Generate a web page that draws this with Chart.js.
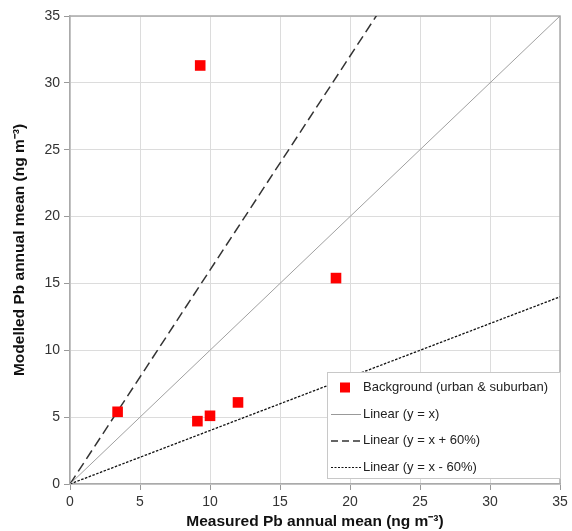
<!DOCTYPE html>
<html>
<head>
<meta charset="utf-8">
<script src="https://cdn.jsdelivr.net/npm/chart.js@4"></script>
<style>
  html, body { margin: 0; padding: 0; background: #fff; }
  #wrap { position: relative; width: 572px; height: 531px; }
</style>
</head>
<body>
<div id="wrap"><canvas id="chart" width="572" height="531"></canvas></div>
<script>
const measured = [3.4, 9.3, 9.1, 10.0, 12.0, 19.0];
const modelled = [5.4, 31.3, 4.7, 5.1, 6.1, 15.4];
const lineX = [0, 35];
const slopes = { equal: 1, plus60: 1.6, minus60: 0.4 };
const tickValues = [0, 5, 10, 15, 20, 25, 30, 35];

const font = "'Liberation Sans', Arial, sans-serif";

function linePoints(slope) {
  return lineX.map(x => ({ x, y: x * slope }));
}

const legendItems = [
  { label: "Background (urban & suburban)", kind: "square" },
  { label: "Linear (y = x)", kind: "line", color: "#999", width: 1, dash: [] },
  { label: "Linear (y = x + 60%)", kind: "line", color: "#333", width: 1.5, dash: [7, 4] },
  { label: "Linear (y = x - 60%)", kind: "line", color: "#111", width: 1.2, dash: [2, 1.5] }
];

// top and right edges of the plot box
const frame = {
  id: "frame",
  beforeDatasetsDraw(chart) {
    const { ctx, chartArea: a } = chart;
    ctx.save();
    ctx.strokeStyle = "#aaa";
    ctx.lineWidth = 1.5;
    ctx.beginPath();
    ctx.moveTo(a.left, a.top);
    ctx.lineTo(a.right, a.top);
    ctx.lineTo(a.right, a.bottom);
    ctx.stroke();
    ctx.restore();
  }
};

const boxLegend = {
  id: "boxLegend",
  afterDraw(chart) {
    const ctx = chart.ctx;
    const x0 = 327, y0 = 372, w = 233, h = 106;
    ctx.save();
    ctx.fillStyle = "#fff";
    ctx.fillRect(x0, y0, w, h);
    ctx.strokeStyle = "#c8c8c8";
    ctx.lineWidth = 1;
    ctx.strokeRect(x0 + 0.5, y0 + 0.5, w, h);
    ctx.font = "13px " + font;
    ctx.textBaseline = "middle";
    legendItems.forEach((it, i) => {
      const y = y0 + 15.5 + i * 26.5;
      if (it.kind === "square") {
        ctx.fillStyle = "#ff0000";
        ctx.fillRect(340, y - 5, 10, 10);
      } else {
        ctx.strokeStyle = it.color;
        ctx.lineWidth = it.width;
        ctx.setLineDash(it.dash);
        ctx.beginPath();
        ctx.moveTo(331, y + 0.5);
        ctx.lineTo(361, y + 0.5);
        ctx.stroke();
        ctx.setLineDash([]);
      }
      ctx.fillStyle = "#222";
      ctx.fillText(it.label, 363, y);
    });
    ctx.restore();
  }
};

new Chart(document.getElementById("chart"), {
  type: "scatter",
  data: {
    datasets: [
      {
        label: "Background (urban & suburban)",
        data: measured.map((x, i) => ({ x, y: modelled[i] })),
        pointStyle: "rect",
        pointRadius: 7.5,
        pointHoverRadius: 7.5,
        backgroundColor: "#ff0000",
        borderColor: "#ff0000",
        borderWidth: 0,
        order: 0
      },
      {
        label: "Linear (y = x)",
        data: linePoints(slopes.equal),
        showLine: true,
        pointRadius: 0,
        borderColor: "#a0a0a0",
        borderWidth: 1,
        order: 1
      },
      {
        label: "Linear (y = x + 60%)",
        data: linePoints(slopes.plus60),
        showLine: true,
        pointRadius: 0,
        borderColor: "#333",
        borderWidth: 1.5,
        borderDash: [10, 5],
        order: 1
      },
      {
        label: "Linear (y = x - 60%)",
        data: linePoints(slopes.minus60),
        showLine: true,
        pointRadius: 0,
        borderColor: "#111",
        borderWidth: 1.3,
        borderDash: [2.5, 1.5],
        order: 1
      }
    ]
  },
  options: {
    responsive: false,
    animation: false,
    layout: { padding: { top: 16, right: 12, left: 0, bottom: 0 } },
    plugins: { legend: { display: false }, tooltip: { enabled: false } },
    scales: {
      x: {
        type: "linear",
        min: 0,
        max: 35,
        afterBuildTicks: s => { s.ticks = tickValues.map(v => ({ value: v })); },
        afterFit: s => { s.height = 47; },
        grid: { color: "#dcdcdc", tickColor: "#999", tickLength: 6 },
        border: { color: "#aaa", width: 1.5 },
        ticks: { color: "#333", font: { size: 14, family: font }, padding: 4 },
        title: {
          display: true,
          text: "Measured Pb annual mean (ng m\u207B\u00B3)",
          color: "#111",
          font: { size: 15.5, weight: "bold", family: font },
          padding: { top: 2, bottom: 0 }
        }
      },
      y: {
        type: "linear",
        min: 0,
        max: 35,
        afterBuildTicks: s => { s.ticks = tickValues.map(v => ({ value: v })); },
        afterFit: s => { s.width = 70; },
        grid: { color: "#dcdcdc", tickColor: "#999", tickLength: 6 },
        border: { color: "#aaa", width: 1.5 },
        ticks: { color: "#333", font: { size: 14, family: font }, padding: 4 },
        title: {
          display: true,
          text: "Modelled Pb annual mean (ng m\u207B\u00B3)",
          color: "#111",
          font: { size: 15.5, weight: "bold", family: font },
          padding: { top: 10, bottom: 4 }
        }
      }
    }
  },
  plugins: [frame, boxLegend]
});
</script>
</body>
</html>
